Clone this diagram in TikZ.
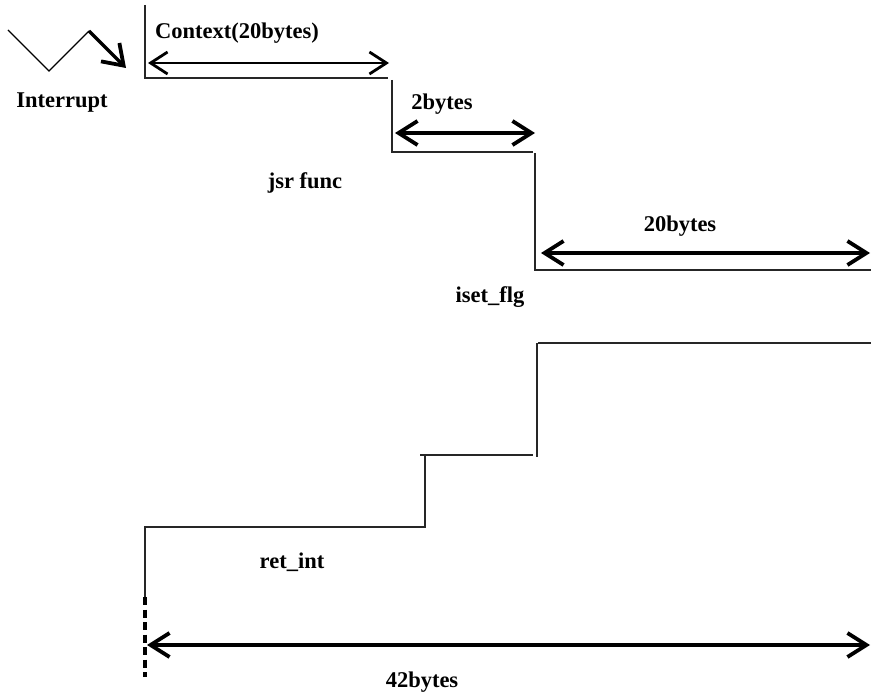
\documentclass[tikz,border=0pt]{standalone}
\usepackage{fontspec}
\setmainfont{Liberation Serif}
\usetikzlibrary{arrows.meta}
\begin{document}
\begin{tikzpicture}[x=1pt,y=-1pt,
  thinline/.style={line width=1.5pt,draw=black!85},
  barb/.tip={Straight Barb[length=19pt,width=24pt,line width=3.8pt]},
  dim/.style={line width=4pt,barb-barb},
  dimthin/.style={line width=2.2pt,{Straight Barb[length=17pt,width=22pt,line width=2.8pt]}-{Straight Barb[length=17pt,width=22pt,line width=2.8pt]}},
  lbl/.style={font=\fontsize{22.5}{26}\selectfont\bfseries,inner sep=0pt}]
\useasboundingbox (0,0) rectangle (871,693);
% interrupt zigzag
\coordinate (z1) at (8,30);
\coordinate (z2) at (49,71);
\coordinate (z3) at (89,31);
\coordinate (z4) at (126,68);
\draw[line width=1.3pt] (z1) -- (z2) -- (z3);
\draw[line width=3.2pt,-{Straight Barb[length=19pt,width=26pt,line width=3.8pt]}] (z3) -- (z4);
\node[lbl] (intr) at (62,103) {Interrupt};
% step 1
\coordinate (a0) at (145,5);
\coordinate (a1) at (145,78);
\coordinate (a2) at (388,78);
\draw[thinline] (a0) -- (a1) -- (a2);
\coordinate (c1) at (148,63);
\coordinate (c2) at (389,63);
\draw[dimthin] (c1) -- (c2);
\node[lbl] (ctx) at (237,33) {Context(20bytes)};
% step 2
\coordinate (b0) at (392,80);
\coordinate (b1) at (392,152);
\coordinate (b2) at (533,152);
\draw[thinline] (b0) -- (b1) -- (b2);
\coordinate (d1) at (395,133);
\coordinate (d2) at (535,133);
\draw[dim] (d1) -- (d2);
\node[lbl] (two) at (442,104) {2bytes};
\node[lbl] (jsr) at (305,183) {jsr func};
% step 3
\coordinate (e0) at (535,153);
\coordinate (e1) at (535,270);
\coordinate (e2) at (871,270);
\draw[thinline] (e0) -- (e1) -- (e2);
\coordinate (f1) at (541,253);
\coordinate (f2) at (870,253);
\draw[dim] (f1) -- (f2);
\node[lbl] (twenty) at (680,226) {20bytes};
\node[lbl] (iset) at (490,297) {iset\_flg};
% lower staircase
\coordinate (g0) at (871,343);
\coordinate (g1) at (538,343);
\coordinate (g2) at (537,343);
\coordinate (g3) at (537,457);
\draw[thinline] (g0) -- (g1);
\draw[thinline] (g2) -- (g3);
\coordinate (h0) at (420,455);
\coordinate (h1) at (533,455);
\draw[thinline] (h0) -- (h1);
\coordinate (k0) at (425,456);
\coordinate (k1) at (425,527);
\coordinate (k2) at (145,527);
\coordinate (k3) at (145,597);
\coordinate (k4) at (145,677);
\draw[thinline] (k0) -- (k1) -- (k2) -- (k3);
\draw[line width=3.5pt,dash pattern=on 8pt off 4.5pt] (k3) -- (k4);
\node[lbl] (ret) at (292,562) {ret\_int};
\coordinate (m1) at (147,645);
\coordinate (m2) at (870,645);
\draw[dim] (m1) -- (m2);
\node[lbl] (tot) at (422,682) {42bytes};
\end{tikzpicture}
\end{document}
